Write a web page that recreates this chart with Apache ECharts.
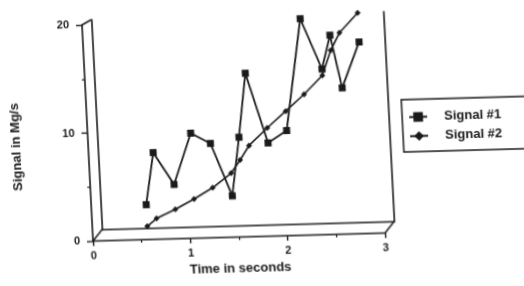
<!DOCTYPE html>
<html>
<head>
<meta charset="utf-8">
<script src="https://cdn.jsdelivr.net/npm/echarts@6.0.0/dist/echarts.min.js"></script>
<style>
  html, body { margin: 0; padding: 0; background: #fff; overflow: hidden; }
  /* the scanned original is slightly skewed, mimic that; a bit wider so the skewed legend box reaches the edge */
  #main { width: 545px; height: 286px; transform-origin: 93px 241px; transform: matrix(1, -0.0274, 0.0512, 1.005, 0, 0); }
</style>
</head>
<body>
<div id="main"></div>
<script>
// time in seconds
var times = [0.5, 0.6, 0.8, 1.0, 1.2, 1.4, 1.5, 1.6, 1.8, 2.0, 2.2, 2.4, 2.5, 2.6, 2.8];
// Signal in Mg/s
var signal1 = [2.2, 7.0, 4.0, 8.7, 7.7, 2.8, 8.2, 14.1, 7.6, 8.7, 19.0, 14.3, 17.4, 12.5, 16.7];
var signal2 = [0.2, 0.9, 1.7, 2.6, 3.6, 4.9, 6.1, 7.4, 9.0, 10.5, 12.0, 13.7, 16.0, 17.6, 19.4];
var seriesNames = ['Signal #1', 'Signal #2'];
var xLabels = ['0', '1', '2', '3'];
var yLabels = ['0', '10', '20'];

var ink = '#1a1a1a';
var font = 'Liberation Sans';

function pairs(xs, ys) {
    return xs.map(function (x, i) { return [x, ys[i]]; });
}

var chart = echarts.init(document.getElementById('main'), null, { renderer: 'canvas' });

var option = {
    animation: false,
    backgroundColor: '#fff',
    grid: [
        // front axes (labels)
        { left: 93, top: 26, width: 292, height: 215, outerBoundsMode: 'none' },
        // back wall
        { left: 102.5, top: 21, width: 292, height: 209, outerBoundsMode: 'none' },
        // data plane
        { left: 100, top: 15, width: 288, height: 215, outerBoundsMode: 'none' }
    ],
    legend: {
        orient: 'vertical',
        left: 408,
        top: 109,
        padding: [11, 60, 9, 6],
        itemWidth: 18,
        itemHeight: 12,
        itemGap: 6,
        borderColor: ink,
        borderWidth: 1.5,
        borderRadius: 0,
        data: seriesNames,
        textStyle: { color: ink, fontFamily: font, fontWeight: 'bold', fontSize: 13, padding: [0, 0, 0, 12] }
    },
    xAxis: [
        {
            gridIndex: 0, type: 'value', min: 0, max: 3, interval: 1,
            name: 'Time in seconds', nameLocation: 'middle', nameGap: 25,
            nameTextStyle: { color: ink, fontFamily: font, fontWeight: 'bold', fontSize: 13 },
            axisLine: { onZero: false, lineStyle: { color: ink, width: 1.6 } },
            axisTick: { length: 5, lineStyle: { color: ink, width: 1.4 } },
            minorTick: { show: true, splitNumber: 2, length: 3, lineStyle: { color: ink, width: 1.2 } },
            axisLabel: {
                color: ink, fontFamily: font, fontWeight: 'bold', fontSize: 11, margin: 9,
                formatter: function (v) { return xLabels[Math.round(v)]; }
            },
            splitLine: { show: false }
        },
        {
            gridIndex: 1, type: 'value', min: 0, max: 3,
            axisLine: { onZero: false, lineStyle: { color: ink, width: 1.6 } },
            axisTick: { show: false }, axisLabel: { show: false }, splitLine: { show: false }
        },
        { gridIndex: 2, type: 'value', min: 0, max: 3, show: false }
    ],
    yAxis: [
        {
            gridIndex: 0, type: 'value', min: 0, max: 20, interval: 10,
            name: 'Signal in Mg/s', nameLocation: 'middle', nameGap: 65,
            nameTextStyle: { color: ink, fontFamily: font, fontWeight: 'bold', fontSize: 13, padding: [0, 24, 0, 0] },
            axisLine: { show: true, onZero: false, lineStyle: { color: ink, width: 1.6 } },
            axisTick: { show: true, length: 6, lineStyle: { color: ink, width: 1.4 } },
            minorTick: { show: true, splitNumber: 2, length: 3, lineStyle: { color: ink, width: 1.2 } },
            axisLabel: {
                color: ink, fontFamily: font, fontWeight: 'bold', fontSize: 11, margin: 13,
                formatter: function (v) { return yLabels[Math.round(v / 10)]; }
            },
            splitLine: { show: false }
        },
        {
            gridIndex: 1, type: 'value', min: 0, max: 20,
            axisLine: { show: true, onZero: false, lineStyle: { color: ink, width: 1.6 } },
            axisTick: { show: false }, axisLabel: { show: false }, splitLine: { show: false }
        },
        {
            gridIndex: 1, type: 'value', min: 0, max: 20, position: 'right',
            axisLine: { show: true, onZero: false, lineStyle: { color: ink, width: 1.6 } },
            axisTick: { show: false }, axisLabel: { show: false }, splitLine: { show: false }
        },
        { gridIndex: 2, type: 'value', min: 0, max: 20, show: false }
    ],
    graphic: [
        // 3d corner joins of the frame
        { type: 'line', shape: { x1: 93, y1: 241, x2: 102.5, y2: 230 }, style: { stroke: ink, lineWidth: 1.5 } },
        { type: 'line', shape: { x1: 385, y1: 241, x2: 394.5, y2: 230 }, style: { stroke: ink, lineWidth: 1.5 } },
        { type: 'line', shape: { x1: 93, y1: 26, x2: 102.5, y2: 21 }, style: { stroke: ink, lineWidth: 1.5 } }
    ],
    series: [
        {
            name: seriesNames[0], type: 'line', xAxisIndex: 2, yAxisIndex: 3,
            data: pairs(times, signal1),
            symbol: 'rect', symbolSize: 7,
            itemStyle: { color: ink },
            lineStyle: { color: ink, width: 1.8 }
        },
        {
            name: seriesNames[1], type: 'line', xAxisIndex: 2, yAxisIndex: 3,
            data: pairs(times, signal2),
            symbol: 'diamond', symbolSize: 6,
            itemStyle: { color: ink },
            lineStyle: { color: ink, width: 1.6 }
        }
    ]
};

chart.setOption(option);
</script>
</body>
</html>
